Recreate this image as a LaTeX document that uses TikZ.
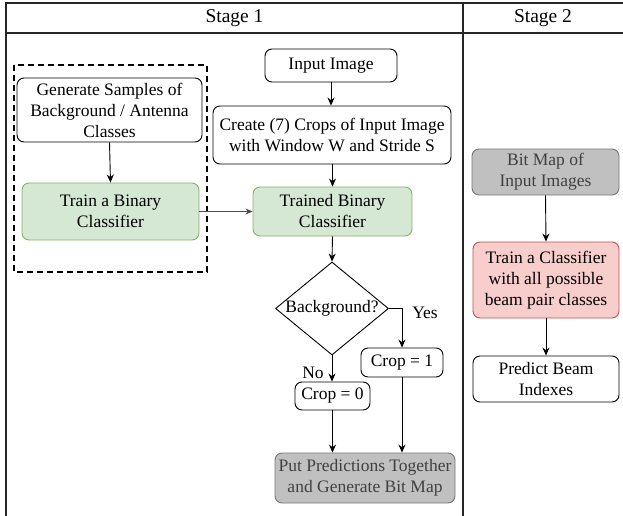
\documentclass[tikz,border=0pt]{standalone}
\usepackage{fontspec}
\setmainfont{Liberation Serif}
\usetikzlibrary{shapes.geometric,arrows.meta}
\definecolor{gfill}{HTML}{D5E8D4}
\definecolor{gline}{HTML}{82B366}
\definecolor{rfill}{HTML}{F8CECC}
\definecolor{rline}{HTML}{B85450}
\definecolor{kfill}{HTML}{C0C0C0}
\definecolor{kline}{HTML}{777777}
\definecolor{ktext}{HTML}{404040}
\tikzset{
  box/.style={draw=black, line width=0.9pt, rounded corners=7pt, fill=white,
    align=center, inner sep=1pt, font=\fontsize{17.5}{21}\selectfont},
  greenbox/.style={box, draw=gline, fill=gfill},
  redbox/.style={box, draw=rline, fill=rfill},
  graybox/.style={box, draw=kline, fill=kfill, text=ktext},
  decision/.style={draw=black, line width=0.9pt, diamond, inner sep=0pt},
  flow/.style={-{Stealth[length=8pt,width=7pt]}, line width=0.9pt},
  thinflow/.style={-{Stealth[length=7pt,width=6pt]}, line width=0.6pt, draw=black!70, fill=black!70},
  lbl/.style={font=\fontsize{17.5}{21}\selectfont},
  frame/.style={line width=1.3pt, draw=black!85}
}
\begin{document}
\begin{tikzpicture}[x=1pt, y=-1pt]
\useasboundingbox (0,0) rectangle (623,516);

% table frame and column headers
\draw[frame] (623,3) -- (6,3) -- (6,516);
\draw[frame] (6,33) -- (623,33);
\draw[frame] (463,3) -- (463,516);
\node[font=\fontsize{19.5}{22}\selectfont] (h1) at (234.5,18) {Stage 1};
\node[font=\fontsize{19.5}{22}\selectfont] (h2) at (543,18) {Stage 2};

% stage 1: training of the binary classifier
\draw[line width=1.6pt, dash pattern=on 6pt off 4pt] (14,65) rectangle (207,272);
\node[box, minimum width=185pt, minimum height=64pt] (gen) at (109.5,110)
  {Generate Samples of\\Background / Antenna\\Classes};
\node[greenbox, minimum width=177pt, minimum height=57pt] (train) at (110.5,211.5)
  {Train a Binary\\Classifier};

% stage 1: inference on crops
\node[box, minimum width=132pt, minimum height=33pt] (input) at (331,65.5) {Input Image};
\node[box, minimum width=238pt, minimum height=58pt] (create) at (332,135)
  {Create (7) Crops of Input Image\\with Window W and Stride S};
\node[greenbox, minimum width=159pt, minimum height=49pt] (trained) at (332.5,211.5)
  {Trained Binary\\Classifier};
\node[decision, minimum width=113pt, minimum height=93pt, aspect=1.2] (dec) at (332,308.5) {};
\node[lbl] (dectext) at (dec.center) {Background?};
\node[box, minimum width=82pt, minimum height=29pt] (crop1) at (402,362.5) {Crop = 1};
\node[box, minimum width=75pt, minimum height=28pt] (crop0) at (332.5,396) {Crop = 0};
\node[graybox, minimum width=180pt, minimum height=50pt] (put) at (365,478)
  {Put Predictions Together\\and Generate Bit Map};

% stage 2
\node[graybox, minimum width=147pt, minimum height=46pt] (bitmap) at (545.5,172)
  {Bit Map of\\Input Images};
\node[redbox, minimum width=146pt, minimum height=76pt] (trainc) at (546,280)
  {Train a Classifier\\with all possible\\beam pair classes};
\node[box, minimum width=146pt, minimum height=46pt] (predict) at (546,379)
  {Predict Beam\\Indexes};

% connectors
\draw[flow] (gen.south) -- (train.north);
\draw[thinflow] (train.east) -- (trained.west);
\draw[flow] (input.south) -- (create.north -| input.south);
\draw[flow] (create.south -| trained.north) -- (trained.north);
\draw[flow] (trained.south) -- (dec.north);
\draw[flow] (dec.east) -| (crop1.north);
\draw[flow] (dec.south) -- (crop0.north -| dec.south);
\draw[flow] (crop0.south) -- (crop0.south |- put.north);
\draw[flow] (crop1.south) -- (crop1.south |- put.north);
\draw[flow] (bitmap.south) -- (trainc.north);
\draw[flow] (trainc.south) -- (predict.north);

\node[lbl, fill=white, inner sep=1pt] (yes) at (425,313) {Yes};
\node[lbl, fill=white, inner sep=1pt] (no) at (313,373) {No};
\end{tikzpicture}
\end{document}
